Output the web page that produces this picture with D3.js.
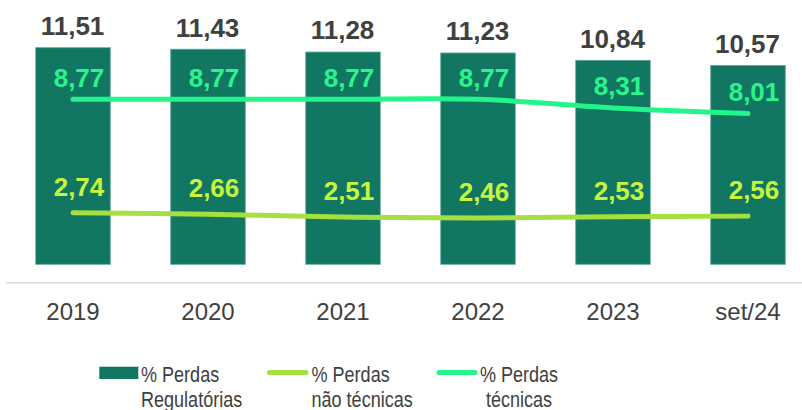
<!DOCTYPE html>
<html>
<head>
<meta charset="utf-8">
<script src="https://cdn.jsdelivr.net/npm/d3@7"></script>
<style>
  html, body { margin: 0; padding: 0; background: #fff; }
  svg { display: block; }
</style>
</head>
<body>
<svg id="chart" width="802" height="410"></svg>
<script>
const categories = ["2019", "2020", "2021", "2022", "2023", "set/24"];
const perdasRegulatorias = [11.51, 11.43, 11.28, 11.23, 10.84, 10.57];
const perdasTecnicas = [8.77, 8.77, 8.77, 8.77, 8.31, 8.01];
const perdasNaoTecnicas = [2.74, 2.66, 2.51, 2.46, 2.53, 2.56];
const legendLabels = [["% Perdas", "Regulatórias"], ["% Perdas", "não técnicas"], ["% Perdas", "técnicas"]];

const fmt = v => v.toFixed(2).replace(".", ",");

const svg = d3.select("#chart");
const C = { bar: "#127762", barStroke: "#5ea897", tec: "#22f58a", tecLabel: "#2af58c",
            nt: "#a5e040", ntLabel: "#c8f53e", text: "#404040", axis: "#d9d9d9" };
const font = "'Liberation Sans', Arial, sans-serif";

const x = d3.scaleBand().domain(categories).range([5.5, 815.5]).paddingInner(0.448).paddingOuter(0.224);
const y = d3.scaleLinear().domain([0, 11.51]).range([264.3, 47.7]);

// axis line
svg.append("line").attr("x1", 6).attr("x2", 802).attr("y1", 282.7).attr("y2", 282.7)
  .attr("stroke", C.axis).attr("stroke-width", 1.5);

// x-axis labels via d3 axis
const ax = svg.append("g").attr("transform", "translate(0,282.7)")
  .call(d3.axisBottom(x).tickSize(0).tickPadding(0));
ax.select(".domain").remove();
ax.selectAll("text").attr("dy", null).attr("y", 37.3)
  .attr("font-family", font).attr("font-size", 24).attr("fill", C.text);

// bars
svg.append("g").selectAll("rect").data(perdasRegulatorias).join("rect")
  .attr("x", (d, i) => x(categories[i]))
  .attr("width", x.bandwidth())
  .attr("y", d => y(d))
  .attr("height", d => y(0) - y(d))
  .attr("fill", C.bar).attr("stroke", C.barStroke).attr("stroke-width", 0.8);

// bar top labels
svg.append("g").selectAll("text").data(perdasRegulatorias).join("text")
  .attr("x", (d, i) => x(categories[i]) + x.bandwidth() / 2 - 0.5)
  .attr("y", d => y(d) - 12.6)
  .attr("text-anchor", "middle")
  .attr("font-family", font).attr("font-weight", "bold")
  .attr("font-size", 26).attr("fill", C.text)
  .text(fmt);

const cx = i => x(categories[i]) + x.bandwidth() / 2;
const line = d3.line().x((d, i) => cx(i)).y(d => y(d)).curve(d3.curveCatmullRom.alpha(0.5));

function drawSeries(vals, color, labelColor, dyLabel) {
  svg.append("path").datum(vals).attr("d", line)
    .attr("fill", "none").attr("stroke", color).attr("stroke-width", 5)
    .attr("stroke-linecap", "round").attr("stroke-linejoin", "round");
  svg.append("g").selectAll("text").data(vals).join("text")
    .attr("x", (d, i) => cx(i) + 6)
    .attr("y", d => y(d) + dyLabel)
    .attr("text-anchor", "middle")
    .attr("font-family", font).attr("font-weight", "bold")
    .attr("font-size", 26).attr("fill", labelColor)
    .text(fmt);
}
drawSeries(perdasTecnicas, C.tec, C.tecLabel, -12.5);
drawSeries(perdasNaoTecnicas, C.nt, C.ntLabel, -17);

// legend
const lg = svg.append("g");
lg.append("rect").attr("x", 99.3).attr("y", 366.7).attr("width", 39).attr("height", 12.3).attr("fill", C.bar);
lg.append("line").attr("x1", 269.5).attr("x2", 306).attr("y1", 372.5).attr("y2", 372.5)
  .attr("stroke", C.nt).attr("stroke-width", 5).attr("stroke-linecap", "round");
lg.append("line").attr("x1", 439).attr("x2", 475).attr("y1", 372.5).attr("y2", 372.5)
  .attr("stroke", C.tec).attr("stroke-width", 5).attr("stroke-linecap", "round");
const lpos = [{x: 141, anchor: "start"}, {x: 311.5, anchor: "start"}, {x: 519, anchor: "middle"}];
legendLabels.forEach((lines, k) => {
  const g = lg.append("g").attr("transform", `translate(${lpos[k].x},0) scale(0.82,1)`);
  const t = g.append("text").attr("font-family", font).attr("font-size", 22)
    .attr("fill", C.text).attr("text-anchor", lpos[k].anchor);
  lines.forEach((s, j) => {
    t.append("tspan").attr("x", 0).attr("y", 381.7 + j * 25.5).text(s);
  });
});
</script>
</body>
</html>
